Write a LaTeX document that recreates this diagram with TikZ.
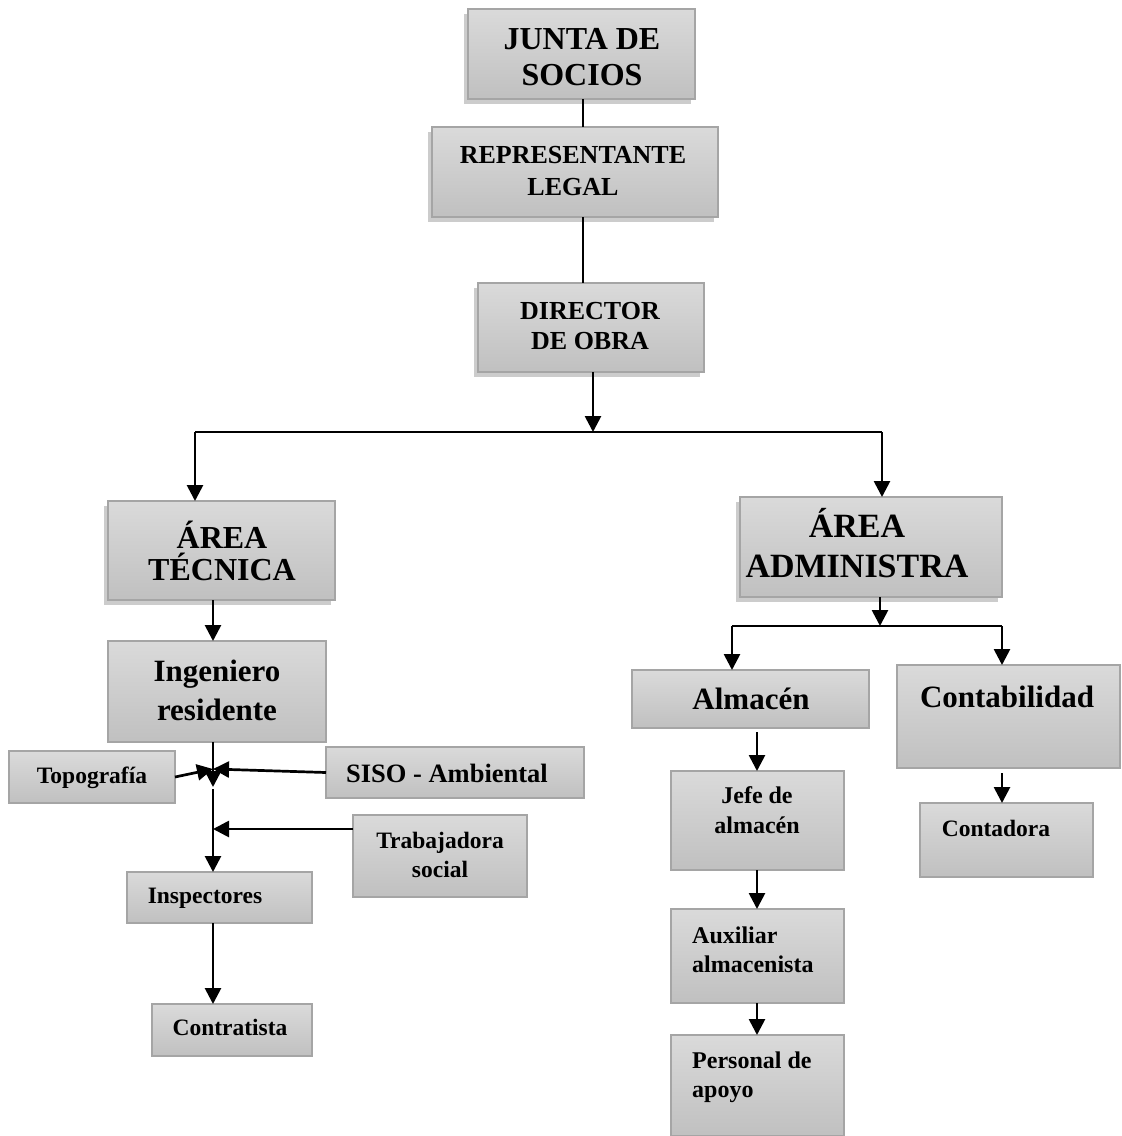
\documentclass[tikz,border=0pt]{standalone}
\usepackage{fontspec}
\setmainfont{Liberation Serif}
\usetikzlibrary{arrows.meta,shadows}
\definecolor{boxtop}{RGB}{218,218,218}
\definecolor{boxbot}{RGB}{192,192,192}
\definecolor{boxline}{RGB}{165,165,165}
\tikzset{
 box/.style={draw=boxline, line width=1.2pt, top color=boxtop, bottom color=boxbot, anchor=north west, inner sep=0pt, outer sep=0pt},
 sbox/.style={box, drop shadow={shadow xshift=-4pt, shadow yshift=-5pt, fill=black, opacity=0.2}},
 lbl/.style={inner sep=0pt, align=center},
 arr/.style={line width=2.7pt, -{Triangle[length=16pt,width=16pt]}},
 ln/.style={line width=2.2pt},
}
\newcommand\fs[2]{\bfseries\fontsize{#1}{#2}\selectfont}
\begin{document}
\begin{tikzpicture}[x=1pt,y=-1pt]
\useasboundingbox (0,0) rectangle (1122,1136);
% boxes
\node[sbox, minimum width=227, minimum height=90] (junta) at (468,9) {};
\node[sbox, minimum width=286, minimum height=90] (rep) at (432,127) {};
\node[sbox, minimum width=226, minimum height=89] (dir) at (478,283) {};
\node[sbox, minimum width=227, minimum height=99] (tec) at (108,501) {};
\node[sbox, minimum width=262, minimum height=100] (adm) at (740,497) {};
\node[box, minimum width=218, minimum height=101] (ing) at (108,641) {};
\node[box, minimum width=237, minimum height=58] (alm) at (632,670) {};
\node[box, minimum width=223, minimum height=103] (con) at (897,665) {};
\node[box, minimum width=166, minimum height=52] (topo) at (9,751) {};
\node[box, minimum width=258, minimum height=51] (siso) at (326,747) {};
\node[box, minimum width=174, minimum height=82] (trab) at (353,815) {};
\node[box, minimum width=185, minimum height=51] (insp) at (127,872) {};
\node[box, minimum width=160, minimum height=52] (contr) at (152,1004) {};
\node[box, minimum width=173, minimum height=99] (jefe) at (671,771) {};
\node[box, minimum width=173, minimum height=74] (conta) at (920,803) {};
\node[box, minimum width=173, minimum height=94] (aux) at (671,909) {};
\node[box, minimum width=173, minimum height=101] (pers) at (671,1035) {};
% labels (base = baseline of last line)
\node[lbl, font=\fs{32}{36}, anchor=base] (tjunta) at (582,85) {JUNTA DE\\SOCIOS};
\node[lbl, font=\fs{26}{32}, anchor=base] (trep) at (573,195) {REPRESENTANTE\\LEGAL};
\node[lbl, font=\fs{26}{30}, anchor=base] (tdir) at (590,349) {DIRECTOR\\DE OBRA};
\node[lbl, font=\fs{32}{32}, anchor=base] (ttec) at (222,580) {ÁREA\\TÉCNICA};
\node[lbl, font=\fs{34}{40}, anchor=base] (tadm) at (857,577) {ÁREA\\ADMINISTRA};
\node[lbl, font=\fs{31}{39}, anchor=base] (ting) at (217,720) {Ingeniero\\residente};
\node[lbl, font=\fs{31}{36}, anchor=base] (talm) at (751,709) {Almacén};
\node[lbl, font=\fs{31}{36}, anchor=base] (tcon) at (1007,707) {Contabilidad};
\node[lbl, font=\fs{23.5}{28}, anchor=base] (ttopo) at (92,783) {Topografía};
\node[lbl, font=\fs{26.5}{30}, anchor=base] (tsiso) at (447,782) {SISO - Ambiental};
\node[lbl, font=\fs{23.5}{29}, anchor=base] (ttrab) at (440,877) {Trabajadora\\social};
\node[lbl, font=\fs{23.5}{28}, anchor=base] (tinsp) at (205,903) {Inspectores};
\node[lbl, font=\fs{23.5}{28}, anchor=base] (tcontr) at (230,1035) {Contratista};
\node[lbl, font=\fs{24}{30}, anchor=base] (tjefe) at (757,833) {Jefe de\\almacén};
\node[lbl, font=\fs{23.5}{28}, anchor=base] (tconta) at (996,836) {Contadora};
\node[lbl, align=left, font=\fs{24}{29}, anchor=base west] (taux) at (692,972) {Auxiliar\\almacenista};
\node[lbl, align=left, font=\fs{24}{29}, anchor=base west] (tpers) at (692,1097) {Personal de\\apoyo};
% connectors
\coordinate (cx) at (583,0);
\draw[ln] (junta.south -| cx) -- (rep.north -| cx);
\draw[ln] (rep.south -| cx) -- (dir.north -| cx);
\coordinate (hj) at (593,432);
\coordinate (hl) at (195,432);
\coordinate (hr) at (882,432);
\draw[arr] (dir.south -| hj) -- (hj);
\draw[ln] (hl) -- (hr);
\draw[arr] (hl) -- (tec.north -| hl);
\draw[arr] (hr) -- (adm.north -| hr);
\coordinate (xl) at (213,0);
\draw[arr] (tec.south -| xl) -- (ing.north -| xl);
\coordinate (aj) at (880,626);
\coordinate (al) at (732,626);
\coordinate (ar) at (1002,626);
\draw[arr] (adm.south -| aj) -- (aj);
\draw[ln] (al) -- (ar);
\draw[arr] (al) -- (alm.north -| al);
\draw[arr] (ar) -- (con.north -| ar);
\coordinate (xa) at (757,0);
\draw[arr] ([yshift=-4pt]alm.south -| xa) -- (jefe.north -| xa);
\draw[arr] (jefe.south -| xa) -- (aux.north -| xa);
\draw[arr] (aux.south -| xa) -- (pers.north -| xa);
\draw[arr] ([yshift=-5pt]con.south -| ar) -- (conta.north -| ar);
\coordinate (j1) at (213,787);
\coordinate (j0) at (213,769);
\coordinate (j2) at (213,829);
\draw[arr] (ing.south -| j1) -- (j1);
\draw[arr] ([yshift=-2pt]j1) -- (insp.north -| j1);
\draw[arr] (siso.west) -- (j0);
\draw[arr] (topo.east) -- (j0);
\draw[arr] (trab.west |- j2) -- (j2);
\draw[arr] (insp.south -| xl) -- (contr.north -| xl);
\end{tikzpicture}
\end{document}
